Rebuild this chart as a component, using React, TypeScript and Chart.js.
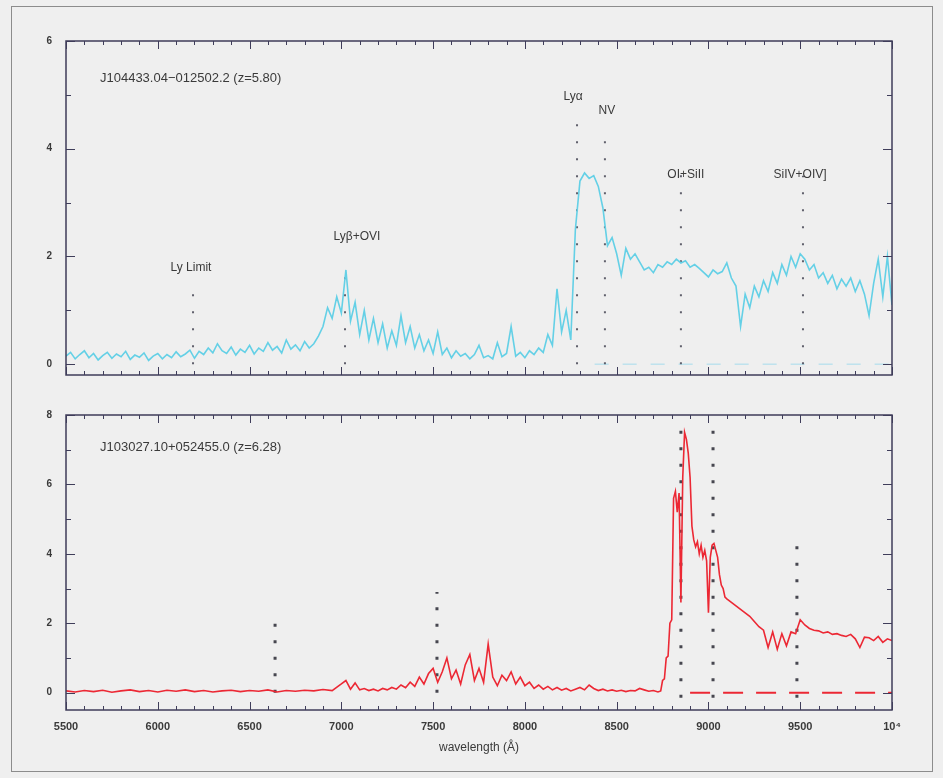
import { useEffect, useRef } from "react";
import { Chart, registerables } from "chart.js";

Chart.register(...registerables);

// ---------- data ----------
const topWave = [
  5500, 5525, 5550, 5575, 5600, 5625, 5650, 5675, 5700, 5725,
  5750, 5775, 5800, 5825, 5850, 5875, 5900, 5925, 5950, 5975,
  6000, 6025, 6050, 6075, 6100, 6125, 6150, 6175, 6200, 6225,
  6250, 6275, 6300, 6325, 6350, 6375, 6400, 6425, 6450, 6475,
  6500, 6525, 6550, 6575, 6600, 6625, 6650, 6675, 6700, 6725,
  6750, 6775, 6800, 6825, 6850, 6875, 6900, 6925, 6950, 6975,
  7000, 7025, 7050, 7075, 7100, 7125, 7150, 7175, 7200, 7225,
  7250, 7275, 7300, 7325, 7350, 7375, 7400, 7425, 7450, 7475,
  7500, 7525, 7550, 7575, 7600, 7625, 7650, 7675, 7700, 7725,
  7750, 7775, 7800, 7825, 7850, 7875, 7900, 7925, 7950, 7975,
  8000, 8025, 8050, 8075, 8100, 8125, 8150, 8175, 8200, 8225,
  8250, 8275, 8300, 8325, 8350, 8375, 8400, 8425, 8450, 8475,
  8500, 8525, 8550, 8575, 8600, 8625, 8650, 8675, 8700, 8725,
  8750, 8775, 8800, 8825, 8850, 8875, 8900, 8925, 8950, 8975,
  9000, 9025, 9050, 9075, 9100, 9125, 9150, 9175, 9200, 9225,
  9250, 9275, 9300, 9325, 9350, 9375, 9400, 9425, 9450, 9475,
  9500, 9525, 9550, 9575, 9600, 9625, 9650, 9675, 9700, 9725,
  9750, 9775, 9800, 9825, 9850, 9875, 9900, 9925, 9950, 9975,
  10000,
];
const topFlux = [
  0.15, 0.22, 0.10, 0.18, 0.25, 0.12, 0.20, 0.08, 0.16, 0.22,
  0.11, 0.19, 0.14, 0.24, 0.09, 0.17, 0.13, 0.21, 0.07, 0.15,
  0.20, 0.10, 0.18, 0.12, 0.23, 0.14, 0.19, 0.26, 0.11, 0.24,
  0.18, 0.30, 0.21, 0.38, 0.25, 0.20, 0.32, 0.17, 0.28, 0.22,
  0.35, 0.19, 0.30, 0.24, 0.40, 0.26, 0.33, 0.21, 0.45, 0.28,
  0.36, 0.25, 0.42, 0.30, 0.38, 0.52, 0.70, 1.05, 0.85, 1.25,
  0.95, 1.75, 0.80, 1.15, 0.55, 1.00, 0.45, 0.85, 0.40, 0.75,
  0.30, 0.62, 0.35, 0.90, 0.40, 0.70, 0.30, 0.55, 0.25, 0.45,
  0.20, 0.60, 0.18, 0.30, 0.12, 0.25, 0.15, 0.20, 0.10, 0.18,
  0.35, 0.12, 0.16, 0.10, 0.40, 0.14, 0.20, 0.70, 0.15, 0.22,
  0.12, 0.25, 0.18, 0.30, 0.22, 0.55, 0.35, 1.40, 0.60, 1.00,
  0.45, 2.50, 3.40, 3.55, 3.45, 3.50, 3.30, 2.90, 2.20, 2.35,
  2.05, 1.65, 2.15, 1.95, 2.05, 1.90, 1.75, 1.80, 1.70, 1.85,
  1.80, 1.90, 1.85, 1.95, 1.88, 1.92, 1.80, 1.85, 1.78, 1.70,
  1.62, 1.75, 1.68, 1.72, 1.88, 1.60, 1.45, 0.70, 1.30, 1.05,
  1.45, 1.25, 1.55, 1.35, 1.70, 1.50, 1.85, 1.65, 2.00, 1.80,
  2.05, 1.95, 1.75, 1.85, 1.60, 1.70, 1.50, 1.65, 1.40, 1.58,
  1.45, 1.60, 1.35, 1.55, 1.30, 0.90, 1.50, 1.95, 1.25, 2.00,
  1.10,
];

const botWave = [
  5500, 5550, 5600, 5650, 5700, 5750, 5800, 5850, 5900, 5950,
  6000, 6050, 6100, 6150, 6200, 6250, 6300, 6350, 6400, 6450,
  6500, 6550, 6600, 6650, 6700, 6750, 6800, 6850, 6900, 6950,
  7000, 7025, 7050, 7075, 7100, 7125, 7150, 7175, 7200, 7225,
  7250, 7275, 7300, 7325, 7350, 7375, 7400, 7425, 7450, 7475,
  7500, 7525, 7550, 7575, 7600, 7625, 7650, 7675, 7700, 7725,
  7750, 7775, 7800, 7825, 7850, 7875, 7900, 7925, 7950, 7975,
  8000, 8025, 8050, 8075, 8100, 8125, 8150, 8175, 8200, 8225,
  8250, 8275, 8300, 8325, 8350, 8375, 8400, 8425, 8450, 8475,
  8500, 8525, 8550, 8575, 8600, 8625, 8650, 8675, 8700, 8725,
  8740, 8750, 8760, 8770, 8780, 8790, 8800, 8810, 8820, 8830,
  8840, 8850, 8860, 8870, 8880, 8890, 8900, 8910, 8920, 8930,
  8940, 8950, 8960, 8970, 8980, 8990, 9000, 9010, 9020, 9030,
  9040, 9050, 9060, 9070, 9080, 9090, 9100,
  9125, 9150, 9175, 9200, 9225, 9250, 9275, 9300, 9325, 9350,
  9375, 9400, 9425, 9450, 9475, 9500, 9525, 9550, 9575, 9600,
  9625, 9650, 9675, 9700, 9725, 9750, 9775, 9800, 9825, 9850,
  9875, 9900, 9925, 9950, 9975, 10000,
];
const botFlux = [
  0.05, 0.02, 0.06, 0.03, 0.07, 0.01, 0.05, 0.08, 0.03, 0.06,
  0.02, 0.07, 0.04, 0.08, 0.03, 0.06, 0.02, 0.05, 0.07, 0.03,
  0.06, 0.04, 0.08, 0.02, 0.06, 0.04, 0.07, 0.05, 0.09, 0.06,
  0.25, 0.35, 0.10, 0.28, 0.08, 0.12, 0.06, 0.10, 0.05, 0.12,
  0.08, 0.15, 0.10, 0.22, 0.14, 0.30, 0.18, 0.45, 0.25, 0.55,
  0.70, 0.30, 0.60, 1.00, 0.40, 0.65, 0.25, 0.80, 1.10, 0.35,
  0.70, 0.30, 1.40, 0.45, 0.20, 0.50, 0.35, 0.60, 0.25, 0.45,
  0.20, 0.30, 0.12, 0.22, 0.10, 0.18, 0.08, 0.15, 0.07, 0.12,
  0.05, 0.10, 0.15, 0.08, 0.22, 0.12, 0.06, 0.10, 0.05, 0.08,
  0.04, 0.07, 0.03, 0.06, 0.05, 0.12, 0.08, 0.04, 0.06, 0.02,
  0.05, 0.35, 0.40, 1.00, 1.05, 2.00, 2.10, 5.60, 5.80, 5.20,
  5.75, 2.60, 6.20, 7.50, 7.30, 6.90, 6.20, 4.80, 4.40, 4.20,
  4.35, 4.00, 4.25, 3.90, 4.10, 3.80, 2.30, 3.90, 4.25, 4.30,
  4.10, 3.90, 3.40, 3.10, 3.00, 2.75, 2.70,
  2.60, 2.50, 2.40, 2.30, 2.20, 2.05, 1.90, 1.80, 1.30, 1.75,
  1.25, 1.70, 1.35, 1.75, 1.70, 2.10, 1.95, 1.85, 1.80, 1.78,
  1.72, 1.75, 1.68, 1.70, 1.65, 1.62, 1.68, 1.55, 1.30, 1.60,
  1.58, 1.50, 1.62, 1.45, 1.55, 1.50,
];

// emission-line markers (observed wavelength, top and bottom of the dotted line)
const topLineWave = [6192, 7020, 8284, 8436, 8850, 9515];
const topLineHigh = [1.45, 1.85, 4.65, 4.4, 3.6, 3.5];
const topLineLow = [0, 0, 0, 0, 0, 0];
const topLineNames = ["Ly Limit", "Lyβ+OVI", "Lyα", "NV", "OI+SiII", "SiIV+OIV]"];

const botLineWave = [6639, 7521, 8850, 9025, 9482];
const botLineHigh = [2.0, 2.9, 7.7, 7.85, 4.45];
const botLineLow = [0, 0, -0.15, -0.15, -0.15];

const topZeroFrom = 8380;
const botZeroFrom = 8900;
const xMin = 5500;
const xMax = 10000;
const xTickValues = [5500, 6000, 6500, 7000, 7500, 8000, 8500, 9000, 9500, 10000];
const topYTicks = [0, 2, 4, 6];
const botYTicks = [0, 2, 4, 6, 8];
const topYRange = [-0.2, 6];
const botYRange = [-0.5, 8];
const topTitle = "J104433.04−012502.2 (z=5.80)";
const botTitle = "J103027.10+052455.0 (z=6.28)";
const xTitle = "wavelength (Å)";

// ---------- styles / placement ----------
const AXIS = "#3f3d5a";
const TEXT = "#3a3a3a";
const FONT = '"Liberation Sans", Arial, sans-serif';
const CYAN = "rgb(100, 208, 230)";
const RED = "rgb(236, 40, 52)";

type Label = { text: string; x: number; y: number; align?: CanvasTextAlign; size?: number };

const topLabels: Label[] = [
  { text: topTitle, x: 5685, y: 5.3, align: "left", size: 13 },
  { text: topLineNames[0], x: 6181, y: 1.8 },
  { text: topLineNames[1], x: 7085, y: 2.37 },
  { text: topLineNames[2], x: 8262, y: 4.96 },
  { text: topLineNames[3], x: 8447, y: 4.7 },
  { text: topLineNames[4], x: 8877, y: 3.52 },
  { text: topLineNames[5], x: 9499, y: 3.52 },
];
const botLabels: Label[] = [{ text: botTitle, x: 5685, y: 7.08, align: "left", size: 13 }];

function decoPlugin(labels: Label[]) {
  return {
    id: "deco",
    afterDatasetsDraw(chart: any) {
      const { ctx, chartArea: a, scales } = chart;
      const xs = scales.x;
      const ys = scales.y;
      ctx.save();
      ctx.strokeStyle = AXIS;
      ctx.lineWidth = 1.5;
      ctx.strokeRect(a.left, a.top, a.right - a.left, a.bottom - a.top);
      ctx.lineWidth = 1;
      ctx.beginPath();
      for (let w = xMin; w <= xMax; w += 100) {
        const px = Math.round(xs.getPixelForValue(w)) + 0.5;
        const len = w % 500 === 0 ? 8 : 4;
        ctx.moveTo(px, a.bottom);
        ctx.lineTo(px, a.bottom - len);
        ctx.moveTo(px, a.top);
        ctx.lineTo(px, a.top + len);
      }
      const yStart = Math.ceil(ys.min);
      for (let v = yStart; v <= ys.max; v += 1) {
        const py = Math.round(ys.getPixelForValue(v)) + 0.5;
        const len = v % 2 === 0 ? 9 : 5;
        ctx.moveTo(a.left, py);
        ctx.lineTo(a.left + len, py);
        ctx.moveTo(a.right, py);
        ctx.lineTo(a.right - len, py);
      }
      ctx.stroke();
      ctx.fillStyle = TEXT;
      ctx.textBaseline = "middle";
      for (const l of labels) {
        ctx.font = `${l.size ?? 12}px ${FONT}`;
        ctx.textAlign = l.align ?? "center";
        ctx.fillText(l.text, xs.getPixelForValue(l.x), ys.getPixelForValue(l.y));
      }
      ctx.restore();
    },
  };
}

function lineMarkers(waves: number[], lows: number[], highs: number[], width: number, dash: number[], color: string) {
  return waves.map((w, i) => ({
    data: [
      { x: w, y: lows[i] },
      { x: w, y: highs[i] },
    ],
    borderColor: color,
    borderWidth: width,
    borderDash: dash,
    pointRadius: 0,
    fill: false,
    order: 2,
  }));
}

function yAxis(range: number[], ticks: number[]) {
  return {
    type: "linear",
    min: range[0],
    max: range[1],
    grid: { display: false, drawTicks: false },
    border: { display: false },
    afterBuildTicks: (s: any) => {
      s.ticks = ticks.map((v) => ({ value: v }));
    },
    afterFit: (s: any) => {
      s.width = 66;
    },
    ticks: {
      padding: 14,
      color: TEXT,
      font: { family: FONT, size: 10, weight: "bold" },
    },
  };
}

function TopChart() {
  const ref = useRef<HTMLCanvasElement | null>(null);
  useEffect(() => {
    if (!ref.current) return;
    const chart = new Chart(ref.current, {
      type: "line",
      data: {
        datasets: [
          {
            data: topWave.map((w, i) => ({ x: w, y: topFlux[i] })),
            borderColor: CYAN,
            borderWidth: 1.6,
            pointRadius: 0,
            fill: false,
            order: 1,
          },
          {
            data: [
              { x: topZeroFrom, y: 0 },
              { x: xMax, y: 0 },
            ],
            borderColor: "rgba(150, 215, 235, 0.55)",
            borderWidth: 1.5,
            borderDash: [14, 14],
            pointRadius: 0,
            order: 3,
          },
          ...lineMarkers(topLineWave, topLineLow, topLineHigh, 2, [2, 15], "rgba(60,60,75,0.8)"),
        ] as any,
      },
      options: {
        responsive: false,
        animation: false,
        layout: { padding: { left: 0, right: 51, top: 41, bottom: 12 } },
        plugins: { legend: { display: false }, tooltip: { enabled: false } },
        scales: {
          x: { type: "linear", min: xMin, max: xMax, display: false },
          y: yAxis(topYRange, topYTicks) as any,
        },
      },
      plugins: [decoPlugin(topLabels)],
    });
    return () => chart.destroy();
  }, []);
  return (
    <canvas
      ref={ref}
      width={943}
      height={395}
      style={{ position: "absolute", left: 0, top: 0, width: 943, height: 395 }}
    />
  );
}

function BottomChart() {
  const ref = useRef<HTMLCanvasElement | null>(null);
  useEffect(() => {
    if (!ref.current) return;
    const chart = new Chart(ref.current, {
      type: "line",
      data: {
        datasets: [
          {
            data: botWave.map((w, i) => ({ x: w, y: botFlux[i] })),
            borderColor: RED,
            borderWidth: 1.6,
            pointRadius: 0,
            fill: false,
            order: 1,
          },
          {
            data: [
              { x: botZeroFrom, y: 0 },
              { x: xMax, y: 0 },
            ],
            borderColor: RED,
            borderWidth: 2,
            borderDash: [20, 13],
            pointRadius: 0,
            order: 3,
          },
          ...lineMarkers(botLineWave, botLineLow, botLineHigh, 3, [3, 13.5], "rgba(40,40,50,0.85)"),
        ] as any,
      },
      options: {
        responsive: false,
        animation: false,
        layout: { padding: { left: 0, right: 51, top: 10, bottom: 8 } },
        plugins: { legend: { display: false }, tooltip: { enabled: false } },
        scales: {
          x: {
            type: "linear",
            min: xMin,
            max: xMax,
            grid: { display: false, drawTicks: false },
            border: { display: false },
            afterBuildTicks: (s: any) => {
              s.ticks = xTickValues.map((v) => ({ value: v }));
            },
            afterFit: (s: any) => {
              s.height = 60;
            },
            ticks: {
              autoSkip: false,
              maxRotation: 0,
              padding: 10,
              color: TEXT,
              font: { family: FONT, size: 11, weight: "bold" },
              callback: (v: any) => (Number(v) === 10000 ? "10⁴" : String(v)),
            },
            title: {
              display: true,
              text: xTitle,
              color: TEXT,
              font: { family: FONT, size: 12 },
              padding: { top: 0, bottom: 15 },
            },
          } as any,
          y: yAxis(botYRange, botYTicks) as any,
        },
      },
      plugins: [decoPlugin(botLabels)],
    });
    return () => chart.destroy();
  }, []);
  return (
    <canvas
      ref={ref}
      width={943}
      height={383}
      style={{ position: "absolute", left: 0, top: 395, width: 943, height: 383 }}
    />
  );
}

export default function App() {
  return (
    <div
      style={{
        position: "fixed",
        left: 0,
        top: 0,
        width: 943,
        height: 778,
        background: "#efefef",
        overflow: "hidden",
      }}
    >
      <div
        style={{
          position: "absolute",
          left: 11,
          top: 6,
          width: 922,
          height: 766,
          border: "1px solid #8c8c8c",
          boxSizing: "border-box",
        }}
      />
      <TopChart />
      <BottomChart />
    </div>
  );
}
